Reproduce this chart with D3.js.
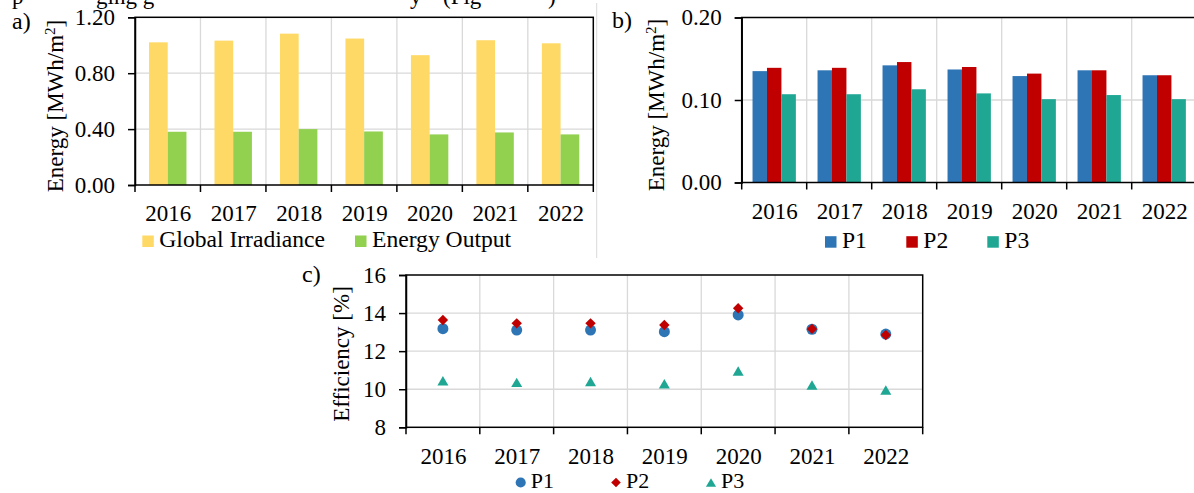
<!DOCTYPE html>
<html>
<head>
<meta charset="utf-8">
<script src="https://cdn.jsdelivr.net/npm/d3@7"></script>
<style>
  html, body { margin: 0; padding: 0; background: #fff; }
  svg { display: block; font-family: "Liberation Serif", "Times New Roman", serif; }
  .tick text { font-family: "Liberation Serif", "Times New Roman", serif; }
</style>
</head>
<body>
<svg id="fig" width="1194" height="493"></svg>
<script>
// ---- data ----
const years = ["2016", "2017", "2018", "2019", "2020", "2021", "2022"];

// a) annual global irradiance and energy output [MWh/m2]
const globalIrradiance = [1.021, 1.033, 1.083, 1.048, 0.929, 1.036, 1.014];
const energyOutput     = [0.381, 0.381, 0.400, 0.383, 0.362, 0.376, 0.362];
const energyTicks      = [0, 0.4, 0.8, 1.2];

// b) annual energy per panel [MWh/m2]
const p1Energy = [0.135, 0.136, 0.142, 0.137, 0.129, 0.136, 0.130];
const p2Energy = [0.139, 0.139, 0.146, 0.140, 0.132, 0.136, 0.130];
const p3Energy = [0.107, 0.107, 0.113, 0.108, 0.101, 0.106, 0.101];
const panelTicks = [0, 0.1, 0.2];

// c) annual efficiency per panel [%]
const p1Eff = [13.18, 13.11, 13.11, 13.02, 13.90, 13.15, 12.90];
const p2Eff = [13.64, 13.46, 13.46, 13.37, 14.25, 13.17, 12.85];
const p3Eff = [10.45, 10.36, 10.40, 10.29, 10.96, 10.22, 9.96];
const effTicks = [8, 10, 12, 14, 16];

// ---- styling ----
const FONT = 23;
const GRID = "#d9d9d9";
const COLORS = {
  irr: "#ffd966", out: "#92d050",
  p1: "#2e75b6", p2: "#c00000", p3: "#1fa794"
};

const svg = d3.select("#fig");

// marker shapes for the scatter panel
const diamond = {
  draw(ctx, size) {
    const r = Math.sqrt(size / 2);
    ctx.moveTo(0, -r); ctx.lineTo(r, 0); ctx.lineTo(0, r); ctx.lineTo(-r, 0); ctx.closePath();
  }
};
const triangle = {
  draw(ctx, size) {
    const w = Math.sqrt(size * 2 / 0.86), h = w * 0.86;
    ctx.moveTo(0, -h / 2); ctx.lineTo(w / 2, h / 2); ctx.lineTo(-w / 2, h / 2); ctx.closePath();
  }
};

function yTitle(g, x, y, main) {
  const t = g.append("text")
    .attr("transform", `translate(${x},${y}) rotate(-90)`)
    .attr("text-anchor", "middle")
    .attr("font-size", FONT)
    .attr("fill", "#000");
  t.append("tspan").text(main);
  return t;
}

function energyTitle(x, y) {
  const t = yTitle(svg, x, y, "Energy [MWh/m");
  t.append("tspan").attr("font-size", 15).attr("dy", -8).text("2");
  t.append("tspan").attr("dy", 8).text("]");
}

// gridlines inside a plot area
function drawFrame(x, y, ticks) {
  const [x0, x1] = x.range();
  const [yb, yt] = y.range();
  const g = svg.append("g");

  g.selectAll("line.hg").data(ticks.slice(1, -1)).join("line")
    .attr("x1", x0).attr("x2", x1)
    .attr("y1", d => y(d)).attr("y2", d => y(d))
    .attr("stroke", GRID).attr("stroke-width", 1.3);

  g.selectAll("line.vg").data(years.slice(1)).join("line")
    .attr("x1", d => x(d)).attr("x2", d => x(d))
    .attr("y1", yt).attr("y2", yb)
    .attr("stroke", GRID).attr("stroke-width", 1.3);

  return g;
}

// border, value axis and category axis
function drawAxes(x, y, ticks, fmt) {
  const [x0, x1] = x.range();
  const [yb, yt] = y.range();

  svg.append("rect")
    .attr("x", x0).attr("y", yt).attr("width", x1 - x0).attr("height", yb - yt)
    .attr("fill", "none").attr("stroke", "#000").attr("stroke-width", 1.5);

  const ya = svg.append("g").attr("transform", `translate(${x0},0)`)
    .call(d3.axisLeft(y).tickValues(ticks).tickFormat(fmt).tickSize(7).tickPadding(13));
  ya.select(".domain").attr("stroke", "#000").attr("stroke-width", 1.5);
  ya.selectAll(".tick line").attr("stroke", "#000").attr("stroke-width", 1.5);
  ya.selectAll(".tick text").attr("font-size", FONT).attr("fill", "#000");

  const xa = svg.append("g").attr("transform", `translate(0,${yb})`)
    .call(d3.axisBottom(d3.scalePoint().domain(years)
      .range([x0 + x.bandwidth() / 2, x1 - x.bandwidth() / 2]))
      .tickSize(0).tickPadding(0));
  xa.select(".domain").remove();
  xa.selectAll(".tick text").attr("font-size", FONT).attr("fill", "#000")
    .attr("dy", null).attr("y", 36.3);

  const edges = years.map(d => x(d)).concat([x1]);
  svg.append("g").selectAll("line").data(edges).join("line")
    .attr("x1", d => d).attr("x2", d => d)
    .attr("y1", yb).attr("y2", yb + 7)
    .attr("stroke", "#000").attr("stroke-width", 1.5);
}

function drawBarPanel(opt) {
  const x = d3.scaleBand().domain(years).range([opt.x0, opt.x1]).padding(0);
  const y = d3.scaleLinear().domain([opt.ticks[0], opt.ticks[opt.ticks.length - 1]])
    .range([opt.yb, opt.yt]);
  const keys = opt.series.map(s => s.key);
  const xs = d3.scaleBand().domain(keys).range([0, x.bandwidth()])
    .paddingInner(0).paddingOuter(0.75);

  drawFrame(x, y, opt.ticks);

  opt.series.forEach(s => {
    svg.append("g").selectAll("rect").data(s.values).join("rect")
      .attr("x", (d, i) => x(years[i]) + xs(s.key))
      .attr("width", xs.bandwidth())
      .attr("y", d => y(d))
      .attr("height", d => y(0) - y(d))
      .attr("fill", s.color);
  });

  drawAxes(x, y, opt.ticks, d3.format(".2f"));

  opt.series.forEach(s => {
    svg.append("rect")
      .attr("x", s.lx).attr("y", opt.ly - 11.5).attr("width", 11.5).attr("height", 11.5)
      .attr("fill", s.color);
    svg.append("text")
      .attr("x", s.lx + 17).attr("y", opt.ly)
      .attr("font-size", 23.6).attr("fill", "#000").text(s.label);
  });
}

// line of running text above the figure, mostly outside the frame
[["p", 12], ["ging g", 96], ["y", 410], ["(Fig", 443], [")", 548]].forEach(([t, x]) => {
  svg.append("text").attr("x", x).attr("y", 4)
    .attr("font-size", FONT).attr("fill", "#000").text(t);
});

// ---- panel a ----
drawBarPanel({
  x0: 135, x1: 593.3, yt: 17.3, yb: 185, ticks: energyTicks, ly: 247,
  series: [
    { key: "irr", label: "Global Irradiance", values: globalIrradiance, color: COLORS.irr, lx: 142.3 },
    { key: "out", label: "Energy Output", values: energyOutput, color: COLORS.out, lx: 355 }
  ]
});
energyTitle(63, 106);

// ---- panel b ----
drawBarPanel({
  x0: 741.7, x1: 1196.7, yt: 17.5, yb: 182.5, ticks: panelTicks, ly: 247.7,
  series: [
    { key: "p1", label: "P1", values: p1Energy, color: COLORS.p1, lx: 825 },
    { key: "p2", label: "P2", values: p2Energy, color: COLORS.p2, lx: 906.3 },
    { key: "p3", label: "P3", values: p3Energy, color: COLORS.p3, lx: 987.3 }
  ]
});
energyTitle(664, 105);

// ---- panel c ----
(function () {
  const x = d3.scaleBand().domain(years).range([406, 922.7]).padding(0);
  const y = d3.scaleLinear().domain([8, 16]).range([427.3, 275]);
  drawFrame(x, y, effTicks);

  const series = [
    { key: "P1", values: p1Eff, color: COLORS.p1, type: d3.symbolCircle, size: Math.PI * 5.5 * 5.5, lx: 520.7 },
    { key: "P2", values: p2Eff, color: COLORS.p2, type: diamond, size: 2 * 5.2 * 5.2, lx: 616 },
    { key: "P3", values: p3Eff, color: COLORS.p3, type: triangle, size: 11 * 9.5 / 2, lx: 711 }
  ];

  series.forEach(s => {
    const sym = d3.symbol().type(s.type).size(s.size);
    svg.append("g").selectAll("path").data(s.values).join("path")
      .attr("transform", (d, i) => `translate(${x(years[i]) + x.bandwidth() / 2},${y(d)})`)
      .attr("d", sym)
      .attr("fill", s.color);
  });

  drawAxes(x, y, effTicks, d3.format("d"));
  yTitle(svg, 349, 354, "Efficiency [%]");

  series.forEach(s => {
    svg.append("path")
      .attr("transform", `translate(${s.lx},482.5)`)
      .attr("d", d3.symbol().type(s.type).size(s.size * 0.85))
      .attr("fill", s.color);
    svg.append("text")
      .attr("x", s.lx + 10).attr("y", 488)
      .attr("font-size", 22).attr("fill", "#000").text(s.key);
  });
})();

// panel labels
[["a)", 12, 29.3], ["b)", 612, 28], ["c)", 302, 282]].forEach(([t, x, y]) => {
  svg.append("text").attr("x", x).attr("y", y)
    .attr("font-size", FONT + 1).attr("fill", "#000").text(t);
});

// separator between the two upper panels
svg.append("line")
  .attr("x1", 596.7).attr("x2", 596.7).attr("y1", 3).attr("y2", 258)
  .attr("stroke", GRID).attr("stroke-width", 1);
</script>
</body>
</html>
